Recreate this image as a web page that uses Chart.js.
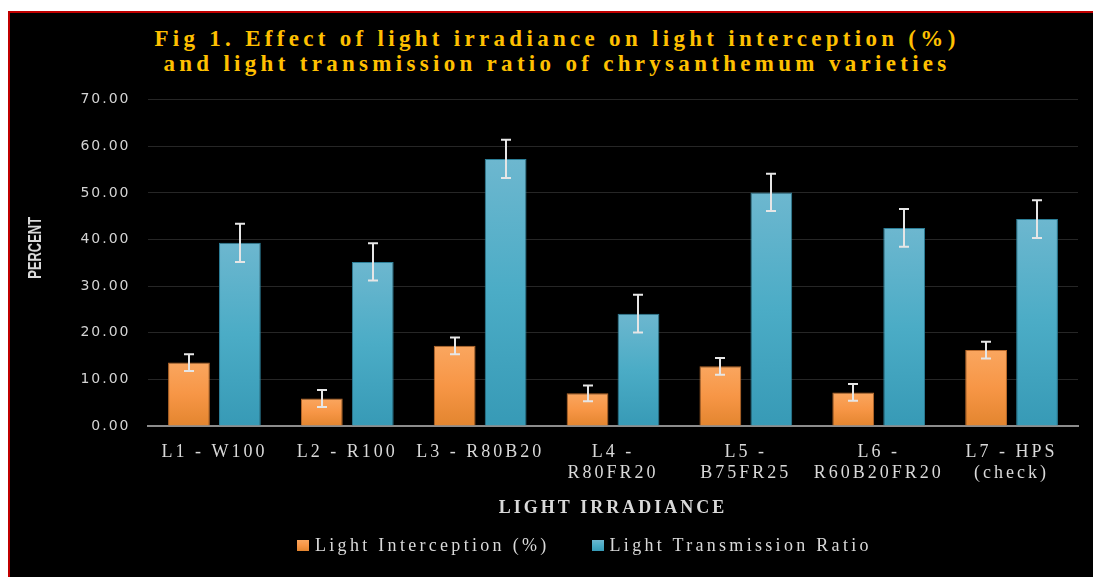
<!DOCTYPE html>
<html><head><meta charset="utf-8">
<script src="https://cdn.jsdelivr.net/npm/chart.js@4.4.1/dist/chart.umd.min.js"></script>
<style>
html,body{margin:0;padding:0;background:#fff;width:1093px;height:577px;overflow:hidden;}
#frame{position:absolute;left:8px;top:11px;right:0;bottom:0;background:#000;border-top:2px solid #c00000;border-left:2px solid #c00000;}
#title{position:absolute;left:0;top:26px;width:1114px;text-align:center;font:bold 23px/25px 'Liberation Serif','Times New Roman',serif;letter-spacing:4.3px;color:#ffc000;white-space:nowrap;}
#wrap{position:absolute;left:10px;top:80px;width:1083px;height:497px;}
#legend{position:absolute;left:297px;top:534px;display:flex;align-items:center;font:18px/22px 'Liberation Serif','Times New Roman',serif;color:#d9d9d9;letter-spacing:3.3px;white-space:nowrap;}
#legend .item{display:flex;align-items:center;}
#legend .item + .item{margin-left:42px;}
#legend .box{width:12px;height:11px;margin-right:6px;}
</style></head><body>
<div id="frame"></div>
<div id="title">Fig 1. Effect of light irradiance on light interception (%)<br>and light transmission ratio of chrysanthemum varieties</div>
<div id="wrap"><canvas id="c"></canvas></div>
<div id="legend"></div>
<script>
// ---- data ----
const categories = ['L1 - W100', 'L2 - R100', 'L3 - R80B20', ['L4 -', 'R80FR20'], ['L5 -', 'B75FR25'], ['L6 -', 'R60B20FR20'], ['L7 - HPS', '(check)']];
const seriesNames = ['Light Interception (%)', 'Light Transmission Ratio'];
const interception = [13.6, 5.9, 17.2, 7.0, 12.8, 7.2, 16.3];
const interceptionErr = [1.8, 1.8, 1.8, 1.7, 1.8, 1.8, 1.8];
const transmission = [39.3, 35.2, 57.3, 24.1, 50.1, 42.5, 44.4];
const transmissionErr = [4.1, 4.0, 4.1, 4.05, 4.0, 4.05, 4.05];
const yTicks = [0, 10, 20, 30, 40, 50, 60, 70];

// ---- styles ----
const orangeStops = ['#FAA65F', '#F79646', '#E3852F'];
const blueStops = ['#6DB7CF', '#4BACC6', '#379AB6'];

function gradientFill(stops, solid) {
  return (c) => {
    const ch = c.chart;
    if (!ch.chartArea || c.type !== 'data') return solid;
    const y = ch.scales.y;
    const t = y.getPixelForValue(c.raw);
    const b = y.getPixelForValue(0);
    const g = ch.ctx.createLinearGradient(0, t, 0, b);
    g.addColorStop(0, stops[0]);
    g.addColorStop(0.5, stops[1]);
    g.addColorStop(1, stops[2]);
    return g;
  };
}

// letter spacing for canvas text (3px default, 2px for y ticks), condensed y title
const spacingPlugin = {
  id: 'spacing',
  beforeUpdate(chart) { chart.ctx.letterSpacing = '3px'; },
  beforeLayout(chart) { chart.ctx.letterSpacing = '3px'; },
  afterLayout(chart) {
    const sy = chart.scales.y;
    if (sy && !sy._patched) {
      sy._patched = true;
      const dl = sy.drawLabels, dt = sy.drawTitle;
      sy.drawLabels = function (a) {
        this.ctx.save(); this.ctx.letterSpacing = '2px'; dl.call(this, a); this.ctx.restore();
      };
      sy.drawTitle = function () {
        const ctx = this.ctx;
        ctx.save();
        ctx.letterSpacing = '0px';
        const cy = (this.top + this.bottom) / 2;
        ctx.translate(0, cy - 15);
        ctx.scale(1, 0.68);
        ctx.translate(0, -cy);
        dt.call(this);
        ctx.restore();
      };
    }
  },
  beforeDraw(chart) { chart.ctx.letterSpacing = '3px'; }
};

const errorBars = {
  id: 'errorBars',
  afterDatasetsDraw(chart) {
    const {ctx, scales: {y}} = chart;
    ctx.save();
    ctx.strokeStyle = '#e6e6e6';
    ctx.lineWidth = 2;
    chart.data.datasets.forEach((ds, i) => {
      const meta = chart.getDatasetMeta(i);
      meta.data.forEach((bar, j) => {
        const v = ds.data[j], e = ds.errors[j];
        const top = y.getPixelForValue(v + e), bot = y.getPixelForValue(v - e);
        const x = Math.round(bar.x), w = 5;
        ctx.beginPath();
        ctx.moveTo(x, top); ctx.lineTo(x, bot);
        ctx.moveTo(x - w, top); ctx.lineTo(x + w, top);
        ctx.moveTo(x - w, bot); ctx.lineTo(x + w, bot);
        ctx.stroke();
      });
    });
    ctx.restore();
  }
};

const htmlLegend = {
  id: 'htmlLegend',
  afterUpdate(chart) {
    const el = document.getElementById('legend');
    el.innerHTML = '';
    chart.data.datasets.forEach((ds) => {
      const item = document.createElement('div');
      item.className = 'item';
      const box = document.createElement('span');
      box.className = 'box';
      box.style.background = 'linear-gradient(' + ds.stops.join(',') + ')';
      const txt = document.createElement('span');
      txt.textContent = ds.label;
      item.appendChild(box); item.appendChild(txt);
      el.appendChild(item);
    });
  }
};

new Chart(document.getElementById('c'), {
  type: 'bar',
  data: {
    labels: categories,
    datasets: [
      { label: seriesNames[0], data: interception, errors: interceptionErr, stops: orangeStops,
        backgroundColor: gradientFill(orangeStops, orangeStops[1]), borderColor: '#B8692A', borderWidth: 1,
        categoryPercentage: 0.767, barPercentage: 0.82 },
      { label: seriesNames[1], data: transmission, errors: transmissionErr, stops: blueStops,
        backgroundColor: gradientFill(blueStops, blueStops[1]), borderColor: '#2C7F98', borderWidth: 1,
        categoryPercentage: 0.767, barPercentage: 0.82 }
    ]
  },
  options: {
    responsive: true,
    maintainAspectRatio: false,
    animation: false,
    layout: { padding: { left: 0, right: 15, top: 19.7, bottom: 58 } },
    plugins: { legend: { display: false }, tooltip: { enabled: false }, title: { display: false } },
    scales: {
      x: {
        afterFit: (s) => { s.height = 93; },
        grid: { display: false, drawTicks: false },
        border: { display: true, color: '#8c8c8c', width: 2 },
        ticks: { color: '#d9d9d9', padding: 15.5, maxRotation: 0, autoSkip: false,
                 font: { family: "'Liberation Serif','Times New Roman',serif", size: 18, lineHeight: 1.18 } },
        title: { display: true, text: 'LIGHT IRRADIANCE', color: '#d9d9d9', padding: { top: 13.5, bottom: 0 },
                 font: { family: "'Liberation Serif','Times New Roman',serif", size: 18, weight: 'bold', lineHeight: 1.2 } }
      },
      y: {
        min: 0, max: 70,
        afterBuildTicks: (s) => { s.ticks = yTicks.map(v => ({ value: v })); },
        afterFit: (s) => { s.width = 138; s.paddingTop = 0; },
        grid: { drawTicks: false, color: (c) => c.tick && c.tick.value === 0 ? 'rgba(0,0,0,0)' : '#262626', lineWidth: 1 },
        border: { display: false },
        ticks: { color: '#d4d4d4', padding: 17.5, callback: (v) => Number(v).toFixed(2),
                 font: { family: "'DejaVu Sans',Verdana,sans-serif", size: 14 } },
        title: { display: true, text: 'PERCENT', color: '#d9d9d9', padding: { top: 14.6, bottom: 0 },
                 font: { family: "'Liberation Sans',Arial,sans-serif", size: 19, weight: 'bold', lineHeight: 1.2 } }
      }
    }
  },
  plugins: [spacingPlugin, errorBars, htmlLegend]
});
</script>
</body></html>
